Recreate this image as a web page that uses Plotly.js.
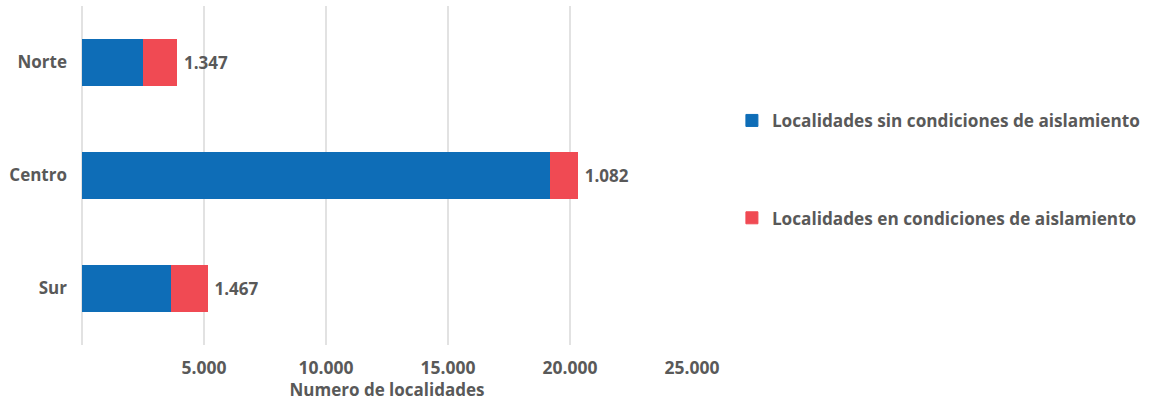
<!DOCTYPE html>
<html>
<head>
<meta charset="utf-8">
<script src="https://cdn.plot.ly/plotly-3.0.1.min.js"></script>
<style>html,body{margin:0;padding:0;background:#fff;}#chart{width:1149px;height:403px;}</style>
</head>
<body>
<div id="chart"></div>
<script>
const categories = ["Norte", "Centro", "Sur"];
const sinAislamiento = [2530, 19220, 3660];
const enAislamiento = [1347, 1082, 1467];
const seriesNames = ["Localidades sin condiciones de aislamiento", "Localidades en condiciones de aislamiento"];
const tickValues = [5000, 10000, 15000, 20000, 25000];
const axisTitle = "Numero de localidades";

const FONT = "'Open Sans', 'Noto Sans', sans-serif";
const GREY = "#595959";
const BLUE = "#0E6DB7";
const RED = "#F04A53";

const traces = [
  {
    type: "bar", orientation: "h",
    y: categories, x: sinAislamiento,
    name: seriesNames[0], legendgroup: "a",
    marker: {color: BLUE, line: {color: BLUE, width: 1}},
    hoverinfo: "x+y"
  },
  {
    type: "bar", orientation: "h",
    y: categories, x: enAislamiento,
    name: seriesNames[1], legendgroup: "b",
    marker: {color: RED, line: {color: RED, width: 1}},
    text: enAislamiento, texttemplate: " %{x:,}",
    textposition: "outside", cliponaxis: false,
    textfont: {family: FONT, size: 17, color: GREY, weight: 700},
    hoverinfo: "x+y"
  }
];

const layout = {
  width: 1149, height: 403,
  margin: {l: 82, r: 457, t: 6, b: 58},
  paper_bgcolor: "#fff", plot_bgcolor: "#fff",
  barmode: "stack", bargap: 0.59,
  separators: ",.",
  font: {family: FONT, color: GREY},
  showlegend: true,
  legend: {
    xref: "container", yref: "container",
    x: 0.637, y: 0.745, xanchor: "left", yanchor: "top",
    traceorder: "grouped", tracegroupgap: 72,
    font: {family: FONT, size: 17.2, color: GREY, weight: 700},
    itemwidth: 30
  },
  xaxis: {
    range: [0, 25000],
    tickvals: tickValues,
    tickformat: ",d",
    showgrid: true, gridcolor: "#E2E2E2", gridwidth: 2.5,
    zeroline: true, zerolinecolor: "#E2E2E2", zerolinewidth: 2.5,
    showline: false, ticks: "",
    ticklabelstandoff: 10,
    tickfont: {family: FONT, size: 17.5, color: GREY, weight: 700},
    title: {text: axisTitle, standoff: 6, font: {family: FONT, size: 17, color: GREY, weight: 700}},
    fixedrange: true
  },
  yaxis: {
    autorange: "reversed",
    showgrid: false, zeroline: false, showline: false, ticks: "",
    ticklabelstandoff: 14,
    tickfont: {family: FONT, size: 17, color: GREY, weight: 700},
    fixedrange: true
  }
};

Plotly.newPlot("chart", traces, layout, {displayModeBar: false, staticPlot: true});
</script>
</body>
</html>
